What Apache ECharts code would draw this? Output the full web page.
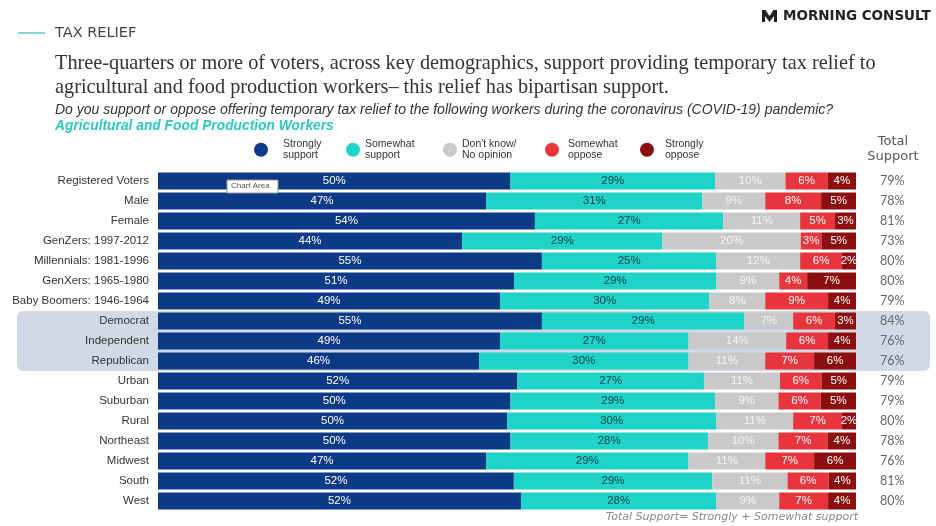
<!DOCTYPE html>
<html><head><meta charset="utf-8">
<script src="https://cdn.jsdelivr.net/npm/echarts@6/dist/echarts.min.js"></script>
<style>html,body{margin:0;padding:0;background:#fff}#c{width:936px;height:526px}</style>
</head><body><div id="c"></div>
<script>
const categories = ["Registered Voters","Male","Female","GenZers: 1997-2012","Millennials: 1981-1996","GenXers: 1965-1980","Baby Boomers: 1946-1964","Democrat","Independent","Republican","Urban","Suburban","Rural","Northeast","Midwest","South","West"];
const seriesNames = ["Strongly support","Somewhat support","Don't know/ No opinion","Somewhat oppose","Strongly oppose"];
const stronglySupport = [50,47,54,44,55,51,49,55,49,46,52,50,50,50,47,52,52];
const somewhatSupport = [29,31,27,29,25,29,30,29,27,30,27,29,30,28,29,29,28];
const dontKnow        = [10,9,11,20,12,9,8,7,14,11,11,9,11,10,11,11,9];
const somewhatOppose  = [6,8,5,3,6,4,9,6,6,7,6,6,7,7,7,6,7];
const stronglyOppose  = [4,5,3,5,2,7,4,3,4,6,5,5,2,4,6,4,4];
const totalSupport    = ["79%","78%","81%","73%","80%","80%","79%","84%","76%","76%","79%","79%","80%","78%","76%","81%","80%"];

const colors = ["#0d3a86","#1fd3c9","#c9c9c9","#e8343c","#8c0f10"];
const labelColors = ["#ffffff","#17444a","#f4f4f4","#ffffff","#ffffff"];
const legendText = ["Strongly\nsupport","Somewhat\nsupport","Don't know/\nNo opinion","Somewhat\noppose","Strongly\noppose"];
const legendLeft = [254,346,443,545,640];
const legendIconW = [34,14,14,22,26];

const all = [stronglySupport, somewhatSupport, dontKnow, somewhatOppose, stronglyOppose];
const rowSums = categories.map((_, r) => all.reduce((s, a) => s + a[r], 0));

const series = all.map((arr, i) => ({
  name: seriesNames[i],
  type: 'bar',
  stack: 'total',
  barWidth: 17,
  itemStyle: { color: colors[i] },
  label: {
    show: true, position: 'inside', color: labelColors[i],
    fontFamily: 'Liberation Sans, Arial, sans-serif', fontSize: 11.5,
    formatter: p => p.data.raw + '%'
  },
  data: arr.map((v, r) => ({ value: v / rowSums[r] * 100, raw: v })),
  z: 3
}));

const legends = seriesNames.map((n, i) => ({
  data: [n], left: legendLeft[i], top: 139, icon: 'circle',
  itemWidth: legendIconW[i], itemHeight: 14, itemGap: 0, selectedMode: false, padding: 0,
  formatter: () => legendText[i],
  textStyle: { fontSize: 10.5, lineHeight: 10.5, color: '#333', fontFamily: 'Liberation Sans, Arial, sans-serif' }
}));

const chart = echarts.init(document.getElementById('c'), null, { renderer: 'canvas' });
chart.setOption({
  animation: false,
  legend: legends,
  grid: { left: 158, right: 80, top: 171, height: 340 },
  xAxis: { type: 'value', min: 0, max: 100, show: false },
  yAxis: [
    { type: 'category', data: categories, inverse: true,
      axisLine: { show: false }, axisTick: { show: false },
      axisLabel: { color: '#333', fontSize: 11.5, margin: 9, fontFamily: 'Liberation Sans, Arial, sans-serif' } },
    { type: 'category', data: totalSupport, inverse: true, position: 'right',
      axisLine: { show: false }, axisTick: { show: false },
      axisLabel: { color: '#666', fontSize: 12.5, margin: 24, fontFamily: 'Lato, sans-serif' } }
  ],
  series: series,
  graphic: [
    { type: 'rect', shape: { x: 17, y: 311, width: 913, height: 60, r: 6 }, style: { fill: '#cfdae6' }, z: -10, silent: true },
    { type: 'line', shape: { x1: 18, y1: 33, x2: 45, y2: 33 }, style: { stroke: '#7fd8d6', lineWidth: 2 } },
    { type: 'text', left: 55, top: 26, style: { text: 'TAX RELIEF', fontSize: 14.5, fill: '#444', fontFamily: 'DejaVu Sans, sans-serif' } },
    { type: 'polygon', shape: { points: [[762,10],[765.5,10],[769.5,16],[773.5,10],[777,10],[777,22],[774,22],[774,16],[769.5,22],[765,16],[765,22],[762,22]] }, style: { fill: '#222' } },
    { type: 'text', left: 783, top: 9, style: { text: 'MORNING CONSULT', fontSize: 13.5, fontWeight: 'bold', fill: '#222', fontFamily: 'DejaVu Sans, sans-serif' } },
    { type: 'text', left: 55, top: 52, style: { text: 'Three-quarters or more of voters, across key demographics, support providing temporary tax relief to\nagricultural and food production workers\u2013 this relief has bipartisan support.', fontSize: 20.3, lineHeight: 24, fill: '#333', fontFamily: 'Liberation Serif, serif' } },
    { type: 'text', left: 55, top: 103, style: { text: 'Do you support or oppose offering temporary tax relief to the following workers during the coronavirus (COVID-19) pandemic?', fontSize: 14, fontStyle: 'italic', fill: '#333', fontFamily: 'Liberation Sans, Arial, sans-serif' } },
    { type: 'text', left: 55, top: 119, style: { text: 'Agricultural and Food Production Workers', fontSize: 13.8, fontStyle: 'italic', fontWeight: 'bold', fill: '#2cc6c4', fontFamily: 'Liberation Sans, Arial, sans-serif' } },
    { type: 'text', x: 893, y: 134, style: { text: 'Total\nSupport', fontSize: 13, lineHeight: 15, align: 'center', fill: '#555', fontFamily: 'DejaVu Sans, sans-serif' } },
    { type: 'text', right: 78, top: 512, style: { text: 'Total Support= Strongly + Somewhat support', fontSize: 11, fontStyle: 'italic', fill: '#888', fontFamily: 'DejaVu Sans, sans-serif' } },
    { type: 'rect', shape: { x: 227, y: 180, width: 51, height: 13 }, style: { fill: '#fff', stroke: '#999', lineWidth: 1 }, z: 50 },
    { type: 'text', left: 231, top: 182, style: { text: 'Chart Area', fontSize: 8, fill: '#555', fontFamily: 'Liberation Sans, Arial, sans-serif' }, z: 51 }
  ]
});
</script></body></html>
